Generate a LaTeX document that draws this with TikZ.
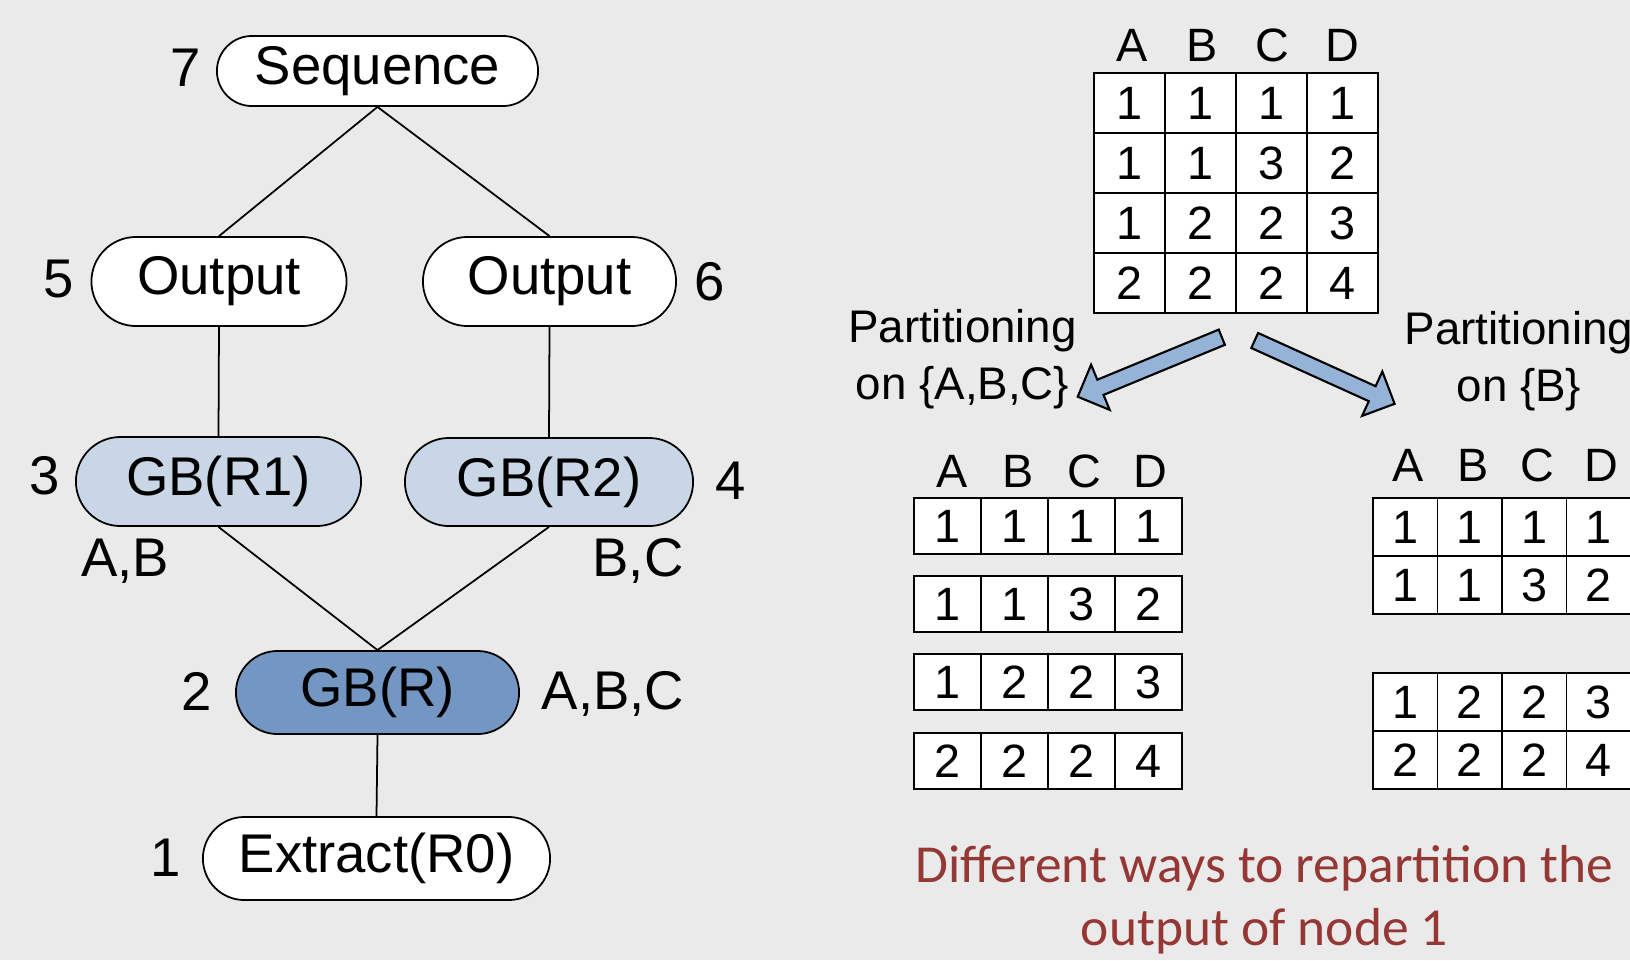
\documentclass[tikz,border=0pt]{standalone}
\usepackage{fontspec}
\setmainfont{Liberation Sans}
\newfontfamily\capfont{Carlito}
\usetikzlibrary{shapes.misc}

\definecolor{bggray}{HTML}{EAEAEA}
\definecolor{gblight}{HTML}{C9D6E6}
\definecolor{gbdark}{HTML}{7496C2}
\definecolor{arrowblue}{HTML}{95B3D7}
\definecolor{capred}{HTML}{953735}

\tikzset{
    op/.style={rounded rectangle, draw=black, line width=0.5pt, fill=white,
        font=\fontsize{15.5}{18}\selectfont, inner sep=0pt},
    num/.style={font=\fontsize{15.5}{18}\selectfont, inner sep=0pt},
    link/.style={line width=0.5pt},
    cellbox/.style={draw=black, fill=white, line width=0.5pt},
    digit/.style={font=\fontsize{13.3}{15}\selectfont, inner sep=0pt},
    parttext/.style={font=\fontsize{13}{16.2}\selectfont, align=center, inner sep=0pt},
    bigarrow/.style={draw=black, fill=arrowblue, line width=0.6pt, line join=miter}
}

% one row of a table: name, left, top, cell width, cell height, values
\newcommand{\datarow}[6]{%
    \foreach \v [count=\i] in {#6}{
        \draw[cellbox] ({#2+(\i-1)*#4},#3) rectangle ({#2+\i*#4},{#3+#5});
        \node[digit] (#1\i) at ({#2+(\i-0.5)*#4},{#3+#5/2}) {\v};
    }}
% column letters: name, left, cell width, y
\newcommand{\colheads}[4]{%
    \foreach \c [count=\i] in {A,B,C,D}
        \node[digit] (#1\i) at ({#2+(\i-0.5)*#3},#4) {\c};}

\begin{document}
\begin{tikzpicture}[x=0.01cm, y=-0.01cm]
            \fill[bggray] (0,0) rectangle (1630,960);
            \useasboundingbox (0,0) rectangle (1630,960);

            % plan
            \node[op, minimum width=3.21cm, minimum height=0.70cm] (seq) at (377.5,71) {Sequence};
            \node[op, minimum width=2.55cm, minimum height=0.89cm] (out1) at (219,281.5) {Output};
            \node[op, minimum width=2.53cm, minimum height=0.89cm] (out2) at (549.5,281.5) {Output};
            \node[op, fill=gblight, minimum width=2.85cm, minimum height=0.89cm] (gb1) at (218.5,481.5) {GB(R1)};
            \node[op, fill=gblight, minimum width=2.88cm, minimum height=0.88cm] (gb2) at (549,482) {GB(R2)};
            \node[op, fill=gbdark, minimum width=2.83cm, minimum height=0.83cm] (gb) at (377.5,692.5) {GB(R)};
            \node[op, minimum width=3.47cm, minimum height=0.83cm] (ext) at (376.5,858.5) {Extract(R0)};

            \draw[link] (seq.south) -- (out1.north);
            \draw[link] (seq.south) -- (out2.north);
            \draw[link] (out1.south) -- (gb1.north);
            \draw[link] (out2.south) -- (gb2.north);
            \draw[link] (gb1.south) -- (gb.north);
            \draw[link] (gb2.south) -- (gb.north);
            \draw[link] (gb.south) -- (ext.north);

            \node[num] (n7) at (186,68) {7};
            \node[num] (n5) at (59,279) {5};
            \node[num] (n6) at (710,282) {6};
            \node[num] (n3) at (45,476) {3};
            \node[num] (n4) at (731,481) {4};
            \node[num] (n2) at (197,691) {2};
            \node[num] (n1) at (166,858) {1};
            \node[num] (keys1) at (125,561) {A,B};
            \node[num] (keys2) at (638,561) {B,C};
            \node[num] (keys) at (613,694) {A,B,C};

            % input table
            \colheads{th}{1097}{70}{45}
            \datarow{ta}{1094}{73}{71}{60}{1,1,1,1}
            \datarow{tb}{1094}{133}{71}{60}{1,1,3,2}
            \datarow{tc}{1094}{193}{71}{60}{1,2,2,3}
            \datarow{td}{1094}{253}{71}{60}{2,2,2,4}

            % partitioning on {A,B,C}
            \colheads{lh}{919}{66}{471.5}
            \datarow{la}{914}{498}{67}{56}{1,1,1,1}
            \datarow{lb}{914}{576}{67}{56}{1,1,3,2}
            \datarow{lc}{914}{654}{67}{56}{1,2,2,3}
            \datarow{ld}{914}{733}{67}{56}{2,2,2,4}

            % partitioning on {B}
            \colheads{rh}{1376}{64.5}{465.5}
            \datarow{ra}{1373}{498}{64.5}{58}{1,1,1,1}
            \datarow{rb}{1373}{556}{64.5}{58}{1,1,3,2}
            \datarow{rc}{1373}{673}{64.5}{58}{1,2,2,3}
            \datarow{rd}{1373}{731}{64.5}{58}{2,2,2,4}

            \draw[bigarrow] (1218.7,329.6) -- (1097.3,379.7) -- (1091.1,364.7) -- (1077.7,396.7)
                -- (1109.7,409.9) -- (1103.5,394.9) -- (1224.9,344.8) -- cycle;
            \draw[bigarrow] (1258.1,333.0) -- (1375.6,386.2) -- (1382.3,371.5) -- (1394.6,403.8)
                -- (1362.1,415.9) -- (1368.8,401.2) -- (1251.3,348.0) -- cycle;

            \node[parttext] (partL) at (962.5,359) {Partitioning\\on \{A,B,C\}};
            \node[parttext] (partR) at (1519,361) {Partitioning\\on \{B\}};

            \node[font=\capfont\fontsize{15.2}{17.9}\selectfont, text=capred, align=center, inner sep=0pt]
                (note) at (1264.5,900) {Different ways to repartition the\\output of node 1};
\end{tikzpicture}
\end{document}
